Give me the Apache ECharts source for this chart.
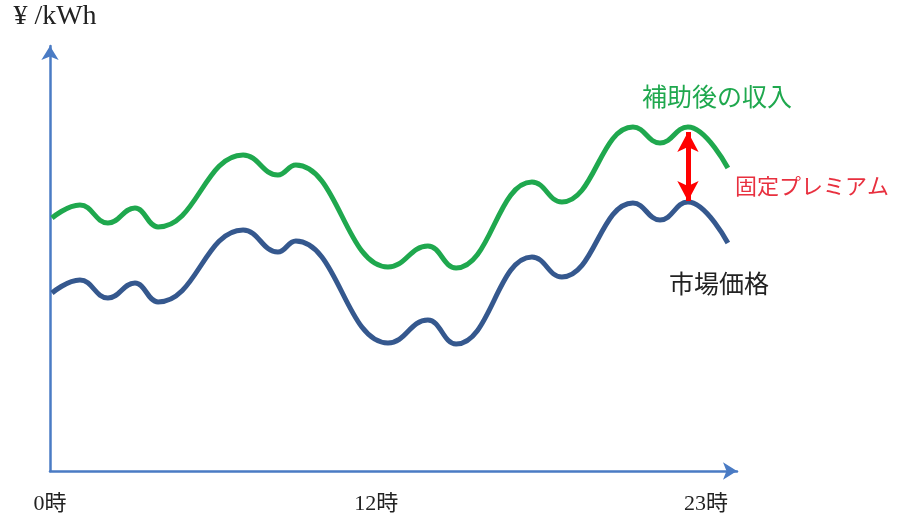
<!DOCTYPE html>
<html>
<head>
<meta charset="utf-8">
<script src="https://cdn.jsdelivr.net/npm/echarts@6/dist/echarts.min.js"></script>
<style>
  html, body { margin: 0; padding: 0; background: #fff; }
  #chart { width: 905px; height: 524px; }
</style>
</head>
<body>
<div id="chart"></div>
<script>
// Hour of day for each turning point of the curves (plus the two ends)
const hours = [0.07, 1.05, 2.03, 2.98, 3.79, 6.77, 7.99, 8.62, 11.85, 13.25, 14.24, 16.9, 17.95, 20.44, 21.39, 22.37, 23.77];
// Market price (市場価格)
const marketPrice = [17.8, 19.1, 17.3, 18.8, 16.9, 24.1, 21.9, 23.0, 12.8, 15.1, 12.7, 21.4, 19.4, 26.8, 25.1, 26.9, 22.8];
// Income after subsidy (補助後の収入)
const incomeAfterSubsidy = [25.3, 26.6, 24.8, 26.3, 24.4, 31.6, 29.6, 30.6, 20.4, 22.5, 20.3, 28.9, 26.9, 34.4, 32.8, 34.4, 30.3];
// Hour where the fixed premium is marked, and the two ends of that arrow
const premiumHour = 22.37;
const premiumTop = 33.9;
const premiumBottom = 27.0;
// Hour tick labels
const hourTicks = [0, 12, 23];

const AXIS_BLUE = '#4A7BC4';
const GREEN = '#1FA84E';
const NAVY = '#35588E';
const LABEL_FONT = '"Liberation Serif", "Noto Sans CJK JP", serif';

const chart = echarts.init(document.getElementById('chart'), null, { renderer: 'canvas' });

const toPairs = (xs, ys) => xs.map((x, i) => [x, ys[i]]);

// Curves pass through each turning point with a flat tangent
const curveStyle = {
  type: 'line',
  smooth: 0.45,
  smoothMonotone: 'x',
  showSymbol: false,
  symbol: 'none',
  silent: true,
  z: 3
};

chart.setOption({
  animation: false,
  backgroundColor: '#ffffff',
  grid: { left: 50, right: 168, top: 46, bottom: 53, containLabel: false },
  xAxis: {
    type: 'value',
    min: 0,
    max: 24.09,
    axisLine: {
      show: true,
      lineStyle: { color: AXIS_BLUE, width: 2.5 },
      symbol: ['none', 'arrow'],
      symbolSize: [13, 14]
    },
    axisTick: { show: false },
    splitLine: { show: false },
    axisLabel: {
      show: true,
      customValues: hourTicks,
      margin: 22,
      color: '#222',
      fontSize: 22,
      fontFamily: LABEL_FONT,
      showMinLabel: true,
      showMaxLabel: true,
      formatter: v => (v === 12 ? '{mid|12時}' : v + '時'),
      rich: {
        mid: {
          fontSize: 22,
          color: '#222',
          fontFamily: LABEL_FONT,
          padding: [0, 32, 0, 0]
        }
      }
    }
  },
  yAxis: {
    type: 'value',
    min: 0,
    max: 42.5,
    name: '¥ /kWh',
    nameLocation: 'end',
    nameGap: 15,
    nameTextStyle: {
      color: '#222',
      fontSize: 28,
      fontFamily: LABEL_FONT,
      padding: [0, 0, 0, 10]
    },
    axisLine: {
      show: true,
      lineStyle: { color: AXIS_BLUE, width: 2.5 },
      symbol: ['none', 'arrow'],
      symbolSize: [13, 14]
    },
    axisTick: { show: false },
    axisLabel: { show: false },
    splitLine: { show: false }
  },
  series: [
    Object.assign({}, curveStyle, {
      name: '補助後の収入',
      data: toPairs(hours, incomeAfterSubsidy),
      lineStyle: { color: GREEN, width: 5 }
    }),
    Object.assign({}, curveStyle, {
      name: '市場価格',
      data: toPairs(hours, marketPrice),
      lineStyle: { color: NAVY, width: 5 },
      markLine: {
        silent: true,
        symbol: ['arrow', 'arrow'],
        symbolSize: [16, 20],
        label: { show: false },
        lineStyle: { color: '#FF0000', width: 5, type: 'solid' },
        emphasis: { disabled: true },
        data: [[
          { coord: [premiumHour, premiumTop] },
          { coord: [premiumHour, premiumBottom] }
        ]]
      }
    })
  ],
  graphic: [
    {
      type: 'text',
      left: 642, top: 84,
      style: {
        text: '補助後の収入',
        fill: GREEN,
        font: '25px "Noto Sans CJK JP", sans-serif'
      }
    },
    {
      type: 'text',
      left: 735, top: 175,
      style: {
        text: '固定プレミアム',
        fill: '#E8303F',
        font: '22px "Noto Sans CJK JP", sans-serif'
      }
    },
    {
      type: 'text',
      left: 669, top: 271,
      style: {
        text: '市場価格',
        fill: '#222222',
        font: '25px "Noto Sans CJK JP", sans-serif'
      }
    }
  ]
});
</script>
</body>
</html>
